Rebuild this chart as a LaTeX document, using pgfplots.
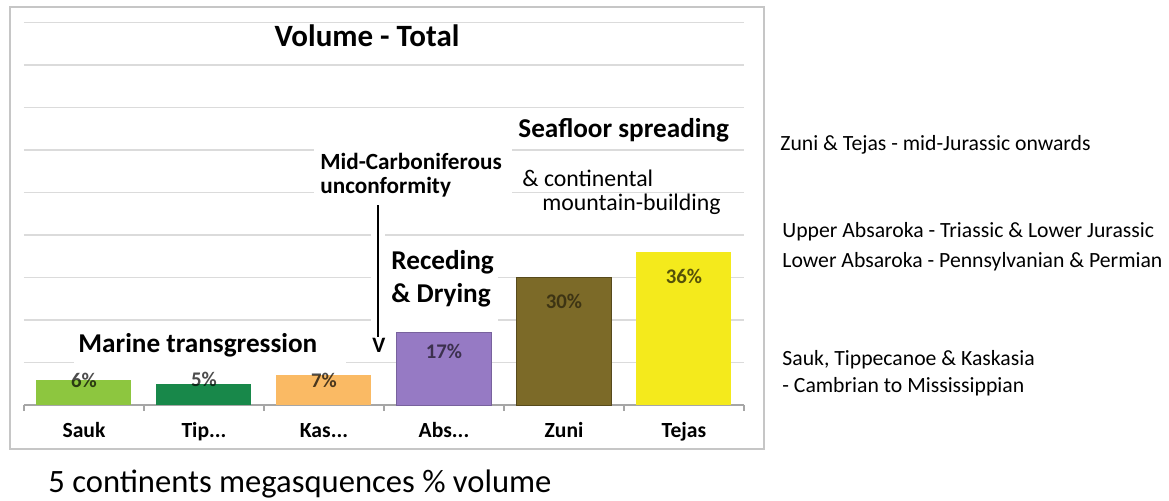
\documentclass[border=0pt]{standalone}
\usepackage{pgfplots}
\pgfplotsset{compat=1.18}
\usepackage{fontspec}
\setmainfont{Carlito}
\definecolor{csauk}{RGB}{141,198,63}
\definecolor{ctip}{RGB}{24,136,74}
\definecolor{ckas}{RGB}{250,186,100}
\definecolor{cabs}{RGB}{150,122,196}
\definecolor{czuni}{RGB}{124,106,40}
\definecolor{ctej}{RGB}{244,234,28}
\newcommand{\fs}[1]{\fontsize{#1}{#1}\selectfont}
\newcommand{\dd}{.\kern0pt.\kern0pt.}
\begin{document}
\begin{tikzpicture}[x=0.5pt,y=-0.5pt]
\useasboundingbox (0,0) rectangle (1169,500);
\draw[gray!45, line width=0.8pt] (10,7) rectangle (764,449);
\begin{axis}[
  at={(12pt,-202.5pt)}, anchor=south west,
  width=360pt, height=191.25pt, scale only axis,
  xmin=-0.5, xmax=5.5, ymin=0, ymax=90,
  axis x line*=bottom, axis y line*=left,
  x axis line style={draw=gray!70, line width=0.8pt, -},
  y axis line style={draw=none},
  tick style={draw=gray!70, line width=0.8pt},
  major tick length=0pt,
  ytick={10,20,...,90}, yticklabels={}, ymajorgrids,
  grid style={gray!28, line width=0.9pt},
  xtick={0,1,2,3,4,5}, xticklabels={Sauk,Tip\dd,Kas\dd,Abs\dd,Zuni,Tejas},
  extra x ticks={-0.5,0.5,1.5,2.5,3.5,4.5,5.5}, extra x tick labels={},
  extra x tick style={major tick length=3pt, tick align=outside},
  xticklabel style={font=\fs{10.8}\bfseries, anchor=base, yshift=-16pt},
  ybar, bar width=47.5pt,
  clip=false,
]
\addplot[fill=csauk, draw=none, bar shift=0pt, nodes near coords={6\%},
  every node near coord/.append style={anchor=base, yshift=-3.75pt, font=\fs{10.4}\bfseries, text=black, text opacity=0.7}]
  coordinates {(0,6)};
\addplot[fill=ctip, draw=none, bar shift=0pt, nodes near coords={5\%},
  every node near coord/.append style={anchor=base, yshift=-1.6pt, font=\fs{10.4}\bfseries, text=black, text opacity=0.7}]
  coordinates {(1,5)};
\addplot[fill=ckas, draw=none, bar shift=0pt, nodes near coords={7\%},
  every node near coord/.append style={anchor=base, yshift=-5.9pt, font=\fs{10.4}\bfseries, text=black, text opacity=0.7}]
  coordinates {(2,7)};
\addplot[fill=cabs, draw=cabs!80!black, bar shift=0pt, nodes near coords={17\%},
  every node near coord/.append style={anchor=base, yshift=-13.1pt, font=\fs{10.4}\bfseries, text=black, text opacity=0.6}]
  coordinates {(3,17)};
\addplot[fill=czuni, draw=czuni!70!black, bar shift=0pt, nodes near coords={30\%},
  every node near coord/.append style={anchor=base, yshift=-15.25pt, font=\fs{10.4}\bfseries, text=black, text opacity=0.5}]
  coordinates {(4,30)};
\addplot[fill=ctej, draw=none, bar shift=0pt, nodes near coords={36\%},
  every node near coord/.append style={anchor=base, yshift=-15.5pt, font=\fs{10.4}\bfseries, text=black, text opacity=0.65}]
  coordinates {(5,36)};
\end{axis}
% white boxes behind annotations
\fill[white] (314,143) rectangle (512,201);
\fill[white] (385,240) rectangle (498,325);
\fill[white] (74,326) rectangle (346,366);
\draw[white, line width=7pt] (378,205) -- (378,356);
\draw[black, line width=1pt] (378,205) -- (378,337);
\node[anchor=base, inner sep=0pt, font=\fs{11}\bfseries] at (379,352) {V};
% annotation texts
\node[anchor=base, inner sep=0pt, font=\fs{15.5}\bfseries] at (367,46) {Volume - Total};
\node[anchor=base west, inner sep=0pt, font=\fs{13.6}\bfseries] at (518,137) {Seafloor spreading};
\node[anchor=base west, inner sep=0pt, font=\fs{11.9}] at (522,186) {\& continental};
\node[anchor=base west, inner sep=0pt, font=\fs{11.9}] at (542,210) {mountain-building};
\node[anchor=base west, inner sep=0pt, font=\fs{11.6}\bfseries] at (320,169) {Mid-Carboniferous};
\node[anchor=base west, inner sep=0pt, font=\fs{11.6}\bfseries] at (320,193) {unconformity};
\node[anchor=base west, inner sep=0pt, font=\fs{13.6}\bfseries] at (391,269) {Receding};
\node[anchor=base west, inner sep=0pt, font=\fs{13.6}\bfseries] at (391,302) {\& Drying};
\node[anchor=base west, inner sep=0pt, font=\fs{13.6}\bfseries] at (78,352) {Marine transgression};
% right side notes
\node[anchor=base west, inner sep=0pt, font=\fs{10.85}] at (780,150) {Zuni \& Tejas - mid-Jurassic onwards};
\node[anchor=base west, inner sep=0pt, font=\fs{10.85}] at (782,237) {Upper Absaroka - Triassic \& Lower Jurassic};
\node[anchor=base west, inner sep=0pt, font=\fs{10.85}] at (782,267) {Lower Absaroka - Pennsylvanian \& Permian};
\node[anchor=base west, inner sep=0pt, font=\fs{10.85}] at (782,365) {Sauk, Tippecanoe \& Kaskasia};
\node[anchor=base west, inner sep=0pt, font=\fs{10.85}] at (782,392) {- Cambrian to Mississippian};
% caption
\node[anchor=base west, inner sep=0pt, font=\fs{16.3}] at (48,492) {5 continents megasquences \% volume};
\end{tikzpicture}
\end{document}
